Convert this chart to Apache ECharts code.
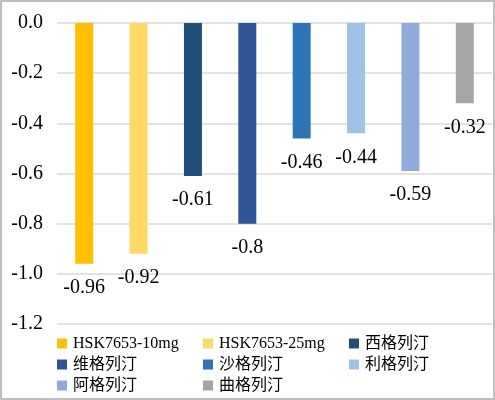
<!DOCTYPE html>
<html>
<head>
<meta charset="utf-8">
<script src="https://cdn.jsdelivr.net/npm/echarts@6/dist/echarts.min.js"></script>
<style>
    html, body { margin: 0; padding: 0; background: #fff; }
    #chart { width: 495px; height: 400px; }
</style>
</head>
<body>
<div id="chart"></div>
<script>
    var names = ['HSK7653-10mg', 'HSK7653-25mg', '西格列汀', '维格列汀', '沙格列汀', '利格列汀', '阿格列汀', '曲格列汀'];
    var values = [-0.96, -0.92, -0.61, -0.8, -0.46, -0.44, -0.59, -0.32];
    var colors = ['#FFC000', '#FFD966', '#1F4E79', '#2F5597', '#2E75B6', '#9DC3E6', '#8FAADC', '#A5A5A5'];
    var yTicks = { min: -1.2, max: 0, interval: 0.2 };

    var font = '"Liberation Serif", "Times New Roman", "Noto Sans CJK SC", serif';

    // one hidden slot per drug, each series stacked so it sits in its own slot
    var series = [];
    for (var i = 0; i < names.length; i++) {
        var data = [];
        for (var j = 0; j < names.length; j++) {
            data.push(j == i ? values[i] : '-');
        }
        series.push({
            name: names[i],
            type: 'bar',
            stack: 'all',
            barWidth: 18,
            itemStyle: { color: colors[i] },
            label: {
                show: true,
                position: 'bottom',
                distance: 14,
                fontFamily: font,
                fontSize: 20,
                color: '#000',
                formatter: function (p) { return p.value; }
            },
            data: data
        });
    }

    var option = {
        animation: false,
        color: colors,
        grid: { left: 57, right: 3, top: 23, bottom: 76 },
        xAxis: {
            type: 'category',
            data: names,
            axisLine: { show: false },
            axisTick: { show: false },
            axisLabel: { show: false }
        },
        yAxis: {
            type: 'value',
            min: yTicks.min,
            max: yTicks.max,
            interval: yTicks.interval,
            axisLine: { show: false },
            axisTick: { show: false },
            splitLine: { lineStyle: { color: '#D9D9D9', width: 1.5 } },
            axisLabel: {
                margin: 14,
                fontFamily: font,
                fontSize: 20,
                color: '#000',
                formatter: function (v) { return v.toFixed(1); }
            }
        },
        legend: {
            left: 57,
            top: 333,
            width: 450,
            padding: 0,
            itemGap: 0,
            itemWidth: 10,
            itemHeight: 10,
            icon: 'rect',
            textStyle: {
                fontFamily: font,
                fontSize: 16,
                color: '#000',
                width: 130,
                lineHeight: 21,
                padding: [0, 0, 0, 1]
            },
            data: names
        },
        graphic: [{
            type: 'rect',
            shape: { x: 1, y: 1, width: 493, height: 398 },
            style: { fill: null, stroke: '#BFBFBF', lineWidth: 2 },
            silent: true
        }],
        series: series
    };

    var chart = echarts.init(document.getElementById('chart'));
    chart.setOption(option);
</script>
</body>
</html>
